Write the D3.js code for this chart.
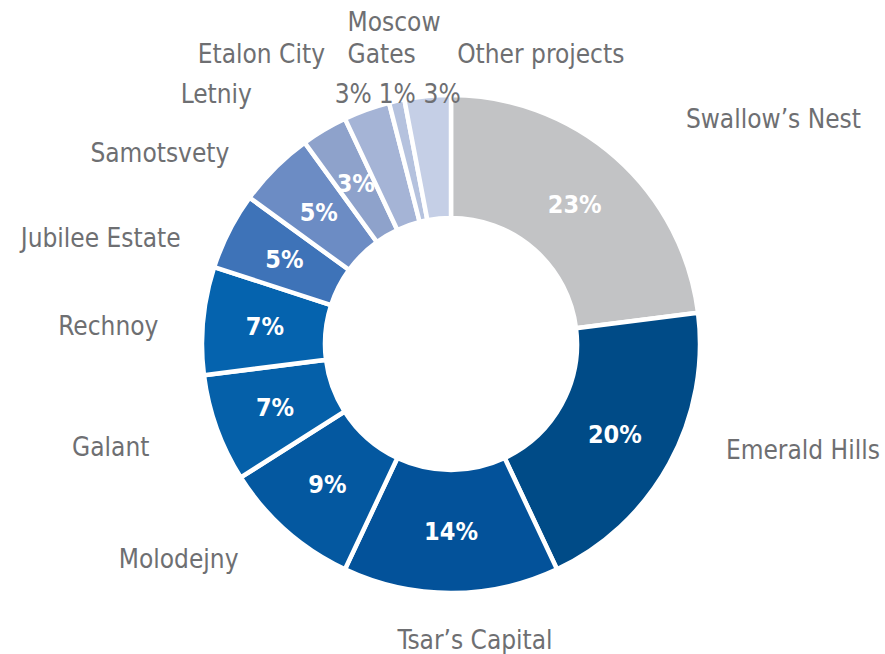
<!DOCTYPE html>
<html lang="en">
<head>
<meta charset="UTF-8">
<title>Projects donut</title>
<style>
body { margin: 0; background: #fff; }
.cat { font: 26px "DejaVu Sans Condensed", "DejaVu Sans", sans-serif; fill: #6e6f72; }
.pct-in { font: bold 25px "DejaVu Sans Condensed", "DejaVu Sans", sans-serif; fill: #fff; }
.pct-out { font: 26px "DejaVu Sans Condensed", "DejaVu Sans", sans-serif; fill: #6e6f72; }
</style>
</head>
<body>
<div id="chart"></div>
<script src="https://cdnjs.cloudflare.com/ajax/libs/d3/7.8.5/d3.min.js"></script>
<script>

let projects = ["Swallow\u2019s Nest", "Emerald Hills", "Tsar\u2019s Capital", "Molodejny", "Galant",
  "Rechnoy", "Jubilee Estate", "Samotsvety", "Letniy", "Etalon City", "Moscow Gates", "Other projects"];
let shares = [23, 20, 14, 9, 7, 7, 5, 5, 3, 3, 1, 3];
let colors = ["#c2c3c5", "#004b87", "#03529a", "#0458a0", "#0560a9", "#0563ae",
  "#3e73b8", "#6c8cc4", "#8ea2cb", "#a5b4d6", "#b5c2de", "#c5cfe6"];
// which percentages sit outside the ring
let outside = ["Etalon City", "Moscow Gates", "Other projects"];

let width = 885, height = 654;
let cx = 451, cy = 344;
let rOuter = 249, rInner = 126;

// nudges for the name labels, relative to a point on a circle of radius 300
let nameNudge = {
  "Swallow\u2019s Nest": [124, 9],
  "Emerald Hills": [89, -30],
  "Tsar\u2019s Capital": [24, 5],
  "Molodejny": [-74, -1],
  "Galant": [-58, 10],
  "Rechnoy": [-44, 19],
  "Jubilee Estate": [-83, 39],
  "Samotsvety": [-79, 30],
  "Letniy": [-82, 17],
  "Etalon City": [-88, 1],
  "Moscow Gates": [-38, -20],
  "Other projects": [118, 18]
};
let pctNudge = {
  "Etalon City": [-8, 8],
  "Moscow Gates": [4, 18],
  "Other projects": [16, 23]
};

let svg = d3.select("#chart").append("svg")
  .attr("width", width)
  .attr("height", height);

let g = svg.append("g").attr("transform", "translate(" + cx + "," + cy + ")");

let pie = d3.pie().sort(null).value((d, i) => shares[i]);
let slices = pie(projects);

let arc = d3.arc().innerRadius(rInner).outerRadius(rOuter);
let midArc = d3.arc().innerRadius(187).outerRadius(187);
let nameArc = d3.arc().innerRadius(300).outerRadius(300);
let outArc = d3.arc().innerRadius(265).outerRadius(265);

g.selectAll("path.slice")
  .data(slices)
  .enter().append("path")
  .attr("class", "slice")
  .attr("d", arc)
  .attr("fill", (d, i) => colors[i])
  .attr("stroke", "#fff")
  .attr("stroke-width", 4.5)
  .attr("stroke-linejoin", "miter");

// percentages inside the ring
g.selectAll("text.pct-in")
  .data(slices.filter(d => outside.indexOf(d.data) < 0))
  .enter().append("text")
  .attr("class", "pct-in")
  .attr("text-anchor", "middle")
  .attr("dy", "0.36em")
  .attr("transform", d => "translate(" + midArc.centroid(d) + ")")
  .text(d => d.value + "%");

// small percentages above the ring
g.selectAll("text.pct-out")
  .data(slices.filter(d => outside.indexOf(d.data) >= 0))
  .enter().append("text")
  .attr("class", "pct-out")
  .attr("text-anchor", "middle")
  .attr("transform", d => {
    let p = outArc.centroid(d), n = pctNudge[d.data];
    return "translate(" + (p[0] + n[0]) + "," + (p[1] + n[1]) + ")";
  })
  .text(d => d.value + "%");

// project names
let names = g.selectAll("text.cat")
  .data(slices)
  .enter().append("text")
  .attr("class", "cat")
  .attr("text-anchor", d => d.data === "Moscow Gates" ? "start" : "middle")
  .attr("transform", d => {
    let p = nameArc.centroid(d), n = nameNudge[d.data];
    return "translate(" + (p[0] + n[0]) + "," + (p[1] + n[1]) + ")";
  });

names.each(function (d) {
  let lines = d.data === "Moscow Gates" ? ["Moscow", "Gates"] : [d.data];
  d3.select(this).selectAll("tspan")
    .data(lines)
    .enter().append("tspan")
    .attr("x", 0)
    .attr("dy", (l, i) => i ? 32 : 0)
    .text(l => l);
});

</script>
</body>
</html>
